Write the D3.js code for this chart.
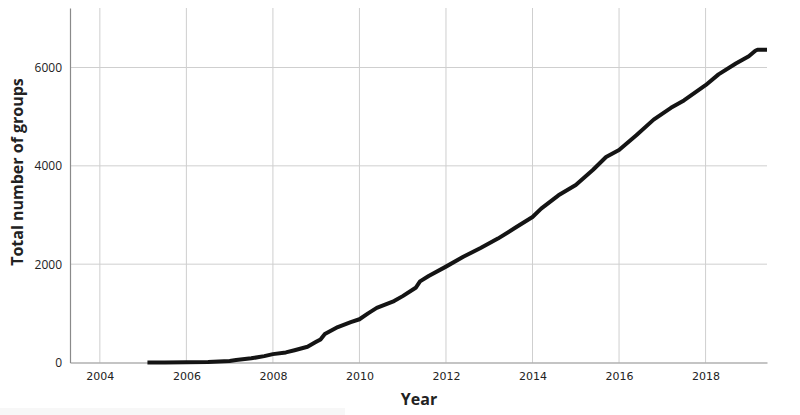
<!DOCTYPE html>
<html>
<head>
<meta charset="utf-8">
<script src="https://cdn.jsdelivr.net/npm/d3@7"></script>
<style>
  body { margin: 0; background: #fff; }
  svg { display: block; }
</style>
</head>
<body>
<script>
/* data */

// decimal year of each reading
var years = [2005.1, 2005.5, 2006.0, 2006.5, 2007.0, 2007.15, 2007.5, 2007.8, 2008.0, 2008.3,
  2008.5, 2008.8, 2009.0, 2009.1, 2009.2, 2009.5, 2009.8, 2010.0, 2010.2, 2010.4,
  2010.8, 2011.0, 2011.3, 2011.4, 2011.6, 2012.0, 2012.4, 2012.8, 2013.2, 2013.6,
  2014.0, 2014.2, 2014.6, 2015.0, 2015.4, 2015.7, 2016.0, 2016.4, 2016.8, 2017.2,
  2017.5, 2018.0, 2018.3, 2018.7, 2019.0, 2019.15, 2019.2, 2019.42];

// total number of groups at each reading
var totals = [0, 0, 5, 12, 30, 50, 85, 130, 170, 205,
  250, 320, 420, 470, 580, 720, 820, 880, 1000, 1110,
  1250, 1350, 1520, 1650, 1760, 1950, 2150, 2330, 2520, 2740,
  2960, 3130, 3400, 3610, 3920, 4180, 4320, 4620, 4940, 5180,
  5330, 5640, 5860, 6080, 6230, 6340, 6360, 6360];

var xTicks = [2004, 2006, 2008, 2010, 2012, 2014, 2016, 2018];
var yTicks = [0, 2000, 4000, 6000];

/* canvas */

var width = 800;
var height = 415;
var margin = { top: 8, right: 33, bottom: 52.5, left: 70 };
var innerWidth = width - margin.left - margin.right;
var innerHeight = height - margin.top - margin.bottom;

var svg = d3.select('body').
append('svg').
attr('width', width).
attr('height', height);

// faint strip at the bottom left
svg.append('rect').
attr('x', 0).
attr('y', 408).
attr('width', 345).
attr('height', 7).
attr('fill', '#f7f7f7');

var g = svg.append('g').
attr('transform', 'translate(' + margin.left + ',' + margin.top + ')');

/* scales */

var x = d3.scaleLinear().
domain([2003.31, 2019.42]).
range([0, innerWidth]);

var y = d3.scaleLinear().
domain([0, 7210]).
range([innerHeight, 0]);

/* grid */

g.selectAll('.vgrid').
data(xTicks).
enter().
append('line').
attr('class', 'vgrid').
attr('x1', function (d) {return x(d);}).
attr('x2', function (d) {return x(d);}).
attr('y1', 0).
attr('y2', innerHeight).
attr('stroke', '#cfcfcf').
attr('stroke-width', 1);

g.selectAll('.hgrid').
data(yTicks.filter(function (d) {return d > 0;})).
enter().
append('line').
attr('class', 'hgrid').
attr('x1', 0).
attr('x2', innerWidth).
attr('y1', function (d) {return y(d);}).
attr('y2', function (d) {return y(d);}).
attr('stroke', '#cfcfcf').
attr('stroke-width', 1);

/* axes */

var xAxis = g.append('g').
attr('transform', 'translate(0,' + innerHeight + ')').
call(d3.axisBottom(x).tickValues(xTicks).tickFormat(d3.format('d')).tickSize(0).tickPadding(10));

var yAxis = g.append('g').
call(d3.axisLeft(y).tickValues(yTicks).tickFormat(d3.format('d')).tickSize(0).tickPadding(8));

xAxis.select('.domain').attr('stroke', '#8a8a8a').attr('stroke-width', 1.2);
yAxis.select('.domain').attr('stroke', '#8a8a8a').attr('stroke-width', 1.2);

xAxis.selectAll('text').
attr('fill', '#222').
style('font-family', '"DejaVu Sans", Verdana, sans-serif').
style('font-size', '11px');

yAxis.selectAll('text').
attr('fill', '#222').
style('font-family', '"Open Sans", "Liberation Sans", sans-serif').
style('font-size', '12px');

/* line */

var points = years.map(function (d, i) {return [d, totals[i]];});

var line = d3.line().
x(function (d) {return x(d[0]);}).
y(function (d) {return y(d[1]);});

g.append('path').
datum(points).
attr('d', line).
attr('fill', 'none').
attr('stroke', '#141414').
attr('stroke-width', 4).
attr('stroke-linejoin', 'round').
attr('stroke-linecap', 'butt');

/* titles */

svg.append('text').
text('Year').
attr('x', 419).
attr('y', 405).
attr('text-anchor', 'middle').
attr('fill', '#222').
style('font-family', '"Open Sans", "Liberation Sans", sans-serif').
style('font-weight', 'bold').
style('font-size', '16px');

svg.append('text').
text('Total number of groups').
attr('text-anchor', 'middle').
attr('transform', 'translate(23, 172) rotate(-90)').
attr('fill', '#222').
style('font-family', '"Open Sans", "Liberation Sans", sans-serif').
style('font-weight', 'bold').
style('font-size', '16px');
</script>
</body>
</html>
